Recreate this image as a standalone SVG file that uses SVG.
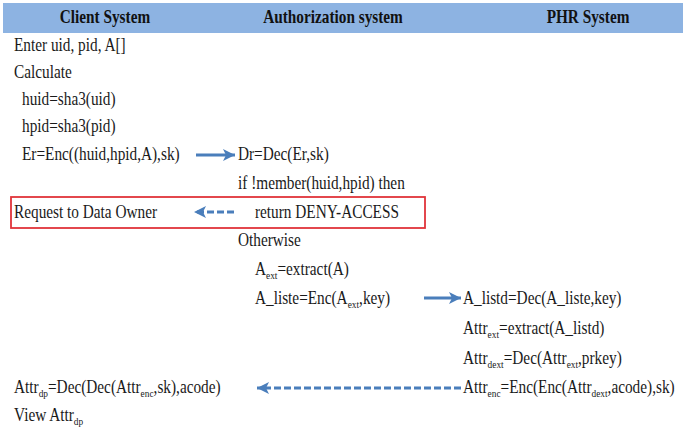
<svg xmlns="http://www.w3.org/2000/svg" width="694" height="437" viewBox="0 0 694 437">
<defs>
<style>
text{font-size:18px;fill:#1a1a1a}
.h{font-weight:bold;text-anchor:middle;fill:#111}
.s{font-size:11px}
.arr{stroke:#4a7ebb;stroke-width:3;fill:none}
.dash{stroke-dasharray:7 3}
</style>
<marker id="ah" viewBox="0 0 10 10" refX="10" refY="5" markerWidth="12" markerHeight="12" markerUnits="userSpaceOnUse" orient="auto">
<path d="M0,0 L10,5 L0,10 L2.5,5 z" fill="#4a7ebb"/>
</marker>
</defs>
<rect width="694" height="437" fill="#fff"/>
<g id="header" font-family="Liberation Serif, DejaVu Serif, serif">
<rect x="3" y="3" width="680" height="30" fill="#8db3e2"/>
<g transform="scale(0.85 1)">
<text class="h" x="123.5" y="23">Client System</text>
<text class="h" x="391.8" y="23">Authorization system</text>
<text class="h" x="691.8" y="23">PHR System</text>
</g>
</g>
<g id="client" transform="scale(0.85 1)" font-family="Liberation Serif, DejaVu Serif, serif">
<text x="16.5" y="51">Enter uid, pid, A[]</text>
<text x="16.5" y="78">Calculate</text>
<text x="25.9" y="105">huid=sha3(uid)</text>
<text x="25.9" y="132">hpid=sha3(pid)</text>
<text x="25.9" y="160">Er=Enc((huid,hpid,A),sk)</text>
<text x="16.5" y="218">Request to Data Owner</text>
<text x="16.5" y="393">Attr<tspan class="s" dy="4">dp</tspan><tspan dy="-4">=Dec(Dec(Attr</tspan><tspan class="s" dy="4">enc</tspan><tspan dy="-4">,sk),acode)</tspan></text>
<text x="16.5" y="421">View Attr<tspan class="s" dy="4">dp</tspan></text>
</g>
<g id="auth" transform="scale(0.85 1)" font-family="Liberation Serif, DejaVu Serif, serif">
<text x="280" y="160">Dr=Dec(Er,sk)</text>
<text x="280" y="189">if !member(huid,hpid) then</text>
<text x="300" y="218">return DENY-ACCESS</text>
<text x="280" y="246">Otherwise</text>
<text x="300" y="275">A<tspan class="s" dy="4">ext</tspan><tspan dy="-4">=extract(A)</tspan></text>
<text x="300" y="304">A_liste=Enc(A<tspan class="s" dy="4">ext</tspan><tspan dy="-4">,key)</tspan></text>
</g>
<g id="phr" transform="scale(0.85 1)" font-family="Liberation Serif, DejaVu Serif, serif">
<text x="544.7" y="304">A_listd=Dec(A_liste,key)</text>
<text x="544.7" y="334">Attr<tspan class="s" dy="4">ext</tspan><tspan dy="-4">=extract(A_listd)</tspan></text>
<text x="544.7" y="364">Attr<tspan class="s" dy="4">dext</tspan><tspan dy="-4">=Dec(Attr</tspan><tspan class="s" dy="4">ext</tspan><tspan dy="-4">,prkey)</tspan></text>
<text x="544.7" y="393">Attr<tspan class="s" dy="4">enc</tspan><tspan dy="-4">=Enc(Enc(Attr</tspan><tspan class="s" dy="4">dext</tspan><tspan dy="-4">,acode),sk)</tspan></text>
</g>
<g id="deny-box">
<rect x="11" y="197" width="414" height="31" fill="none" stroke="#e0343a" stroke-width="1.8"/>
</g>
<g id="connectors">
<line class="arr" x1="196" y1="155" x2="235" y2="155" marker-end="url(#ah)"/>
<line class="arr dash" x1="234" y1="212" x2="194" y2="212" marker-end="url(#ah)"/>
<line class="arr" x1="424" y1="298" x2="461" y2="298" marker-end="url(#ah)"/>
<line class="arr dash" x1="461" y1="388" x2="257" y2="388" marker-end="url(#ah)"/>
</g>
</svg>
